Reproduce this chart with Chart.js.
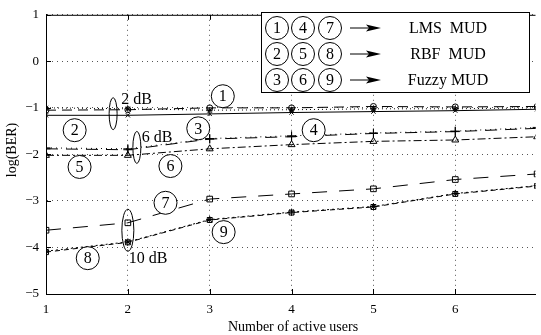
<!DOCTYPE html>
<html>
<head>
<meta charset="utf-8">
<script src="https://cdn.jsdelivr.net/npm/chart.js@4.4.1/dist/chart.umd.min.js"></script>
<style>
html,body{margin:0;padding:0;background:#fff;}
canvas{display:block;}
</style>
</head>
<body>
<canvas id="c" width="541" height="335"></canvas>
<script>
// ---- data ----
const users = [1, 2, 3, 4, 5, 6, 7];
const lms2dB   = [-1.05, -1.04, -1.00, -1.00, -0.97, -0.98, -0.97];
const rbf2dB   = [-1.16, -1.16, -1.13, -1.10, -1.08, -1.06, -1.03];
const fuzzy2dB = [-1.00, -1.02, -1.05, -1.04, -1.02, -1.02, -1.00];
const lms6dB   = [-1.88, -1.90, -1.67, -1.62, -1.55, -1.51, -1.44];
const rbf6dB   = [-1.86, -1.88, -1.66, -1.60, -1.54, -1.50, -1.42];
const fuzzy6dB = [-2.02, -2.02, -1.88, -1.79, -1.72, -1.69, -1.62];
const lms10dB  = [-3.63, -3.47, -2.96, -2.85, -2.74, -2.54, -2.42];
const rbf10dB  = [-4.10, -3.89, -3.41, -3.25, -3.13, -2.85, -2.68];
const fuzzy10dB= [-4.08, -3.88, -3.40, -3.24, -3.12, -2.84, -2.67];
const xTicks = [1, 2, 3, 4, 5, 6];
const yTicks = [1, 0, -1, -2, -3, -4, -5];
const legendRows = [["1","4","7","LMS  MUD"],["2","5","8","RBF  MUD"],["3","6","9","Fuzzy MUD"]];
// circled label positions (data coordinates)
const circleLabels = [
  ["1", 3.16, -0.75], ["2", 1.35, -1.48], ["3", 2.86, -1.44],
  ["4", 4.27, -1.48], ["5", 1.41, -2.27], ["6", 2.52, -2.25],
  ["7", 2.46, -3.04], ["8", 1.51, -4.23], ["9", 3.17, -3.67]
];
const snrEllipses = [
  {x: 1.82, y: -1.125, rx: 4, ry: 16, text: "2 dB", tx: 1.92, ty: -0.83},
  {x: 2.11, y: -1.85, rx: 4, ry: 16, text: "6 dB", tx: 2.17, ty: -1.65},
  {x: 2.00, y: -3.63, rx: 6, ry: 21, text: "10 dB", tx: 2.01, ty: -4.25}
];

const FONT = "'Liberation Serif', 'DejaVu Serif', serif";

function ds(vals, dash, style, rad) {
  return {
    data: vals.map((v, i) => ({x: users[i], y: v})),
    borderColor: '#000', backgroundColor: 'rgba(0,0,0,0)',
    borderWidth: 1, borderDash: dash,
    pointStyle: style, pointRadius: rad || 3.5, pointBorderWidth: 1,
    pointBorderColor: '#000', pointBackgroundColor: 'rgba(0,0,0,0)',
    tension: 0, fill: false
  };
}

const deco = {
  id: 'deco',
  afterDraw(chart) {
    const ctx = chart.ctx, a = chart.chartArea;
    const xs = chart.scales.x, ys = chart.scales.y;
    ctx.save();
    ctx.strokeStyle = '#000'; ctx.fillStyle = '#000'; ctx.lineWidth = 1;
    ctx.setLineDash([]);
    // top border
    ctx.beginPath(); ctx.moveTo(a.left, a.top + 0.5); ctx.lineTo(a.right, a.top + 0.5); ctx.stroke();
    // inner ticks
    ctx.beginPath();
    xTicks.forEach(v => {
      const px = Math.round(xs.getPixelForValue(v)) + 0.5;
      ctx.moveTo(px, a.bottom); ctx.lineTo(px, a.bottom - 5);
      ctx.moveTo(px, a.top); ctx.lineTo(px, a.top + 5);
    });
    yTicks.forEach(v => {
      const py = Math.round(ys.getPixelForValue(v)) + 0.5;
      ctx.moveTo(a.left, py); ctx.lineTo(a.left + 5, py);
    });
    ctx.stroke();
    // axis titles
    ctx.font = "14px " + FONT; ctx.textAlign = 'center'; ctx.textBaseline = 'middle';
    ctx.fillText("Number of active users", 293, 327);
    ctx.save(); ctx.translate(12, 150); ctx.rotate(-Math.PI / 2);
    ctx.fillText("log(BER)", 0, 0); ctx.restore();
    // circled labels
    ctx.font = "16px " + FONT;
    circleLabels.forEach(([t, x, y]) => {
      const px = xs.getPixelForValue(x), py = ys.getPixelForValue(y);
      ctx.fillStyle = '#fff';
      ctx.beginPath(); ctx.arc(px, py, 11.5, 0, Math.PI * 2); ctx.fill();
      ctx.fillStyle = '#000'; ctx.stroke();
      ctx.fillText(t, px, py + 1);
    });
    // SNR ellipses and texts
    snrEllipses.forEach(e => {
      const px = xs.getPixelForValue(e.x), py = ys.getPixelForValue(e.y);
      ctx.beginPath(); ctx.ellipse(px, py, e.rx, e.ry, 0, 0, Math.PI * 2); ctx.stroke();
      ctx.textAlign = 'left';
      ctx.fillText(e.text, xs.getPixelForValue(e.tx), ys.getPixelForValue(e.ty));
    });
    // legend box
    const lx = 261, ly = 12, lw = 268, lh = 80;
    ctx.fillStyle = '#fff'; ctx.fillRect(lx, ly, lw, lh);
    ctx.fillStyle = '#000';
    ctx.strokeRect(lx + 0.5, ly + 0.5, lw, lh);
    legendRows.forEach((row, r) => {
      const cy = ly + 16 + r * 26;
      [277, 303, 330].forEach((cx, k) => {
        ctx.beginPath(); ctx.arc(cx, cy, 11.5, 0, Math.PI * 2); ctx.stroke();
        ctx.textAlign = 'center';
        ctx.fillText(row[k], cx, cy + 1);
      });
      // arrow
      ctx.beginPath(); ctx.moveTo(350, cy); ctx.lineTo(372, cy); ctx.stroke();
      ctx.beginPath(); ctx.moveTo(381, cy); ctx.lineTo(366, cy - 3.5); ctx.lineTo(369, cy); ctx.lineTo(366, cy + 3.5); ctx.closePath(); ctx.fill();
      ctx.textAlign = 'center';
      ctx.fillText(row[3], 448, cy + 1);
    });
    ctx.restore();
  }
};

new Chart(document.getElementById('c'), {
  type: 'line',
  data: {
    datasets: [
      ds(lms2dB, [10, 6], 'circle', 3),
      ds(rbf2dB, [], 'crossRot', 3),
      ds(fuzzy2dB, [1, 3], 'star', 3),
      ds(lms6dB, [12, 8], 'cross', 4.5),
      ds(rbf6dB, [1, 4], 'cross', 4.5),
      ds(fuzzy6dB, [8, 3, 2, 3], 'triangle', 4),
      ds(lms10dB, [15, 12], 'rect', 4),
      ds(rbf10dB, [5, 4], 'rect', 3.5),
      ds(fuzzy10dB, [2, 3], 'star', 3.5)
    ]
  },
  options: {
    responsive: false, animation: false, devicePixelRatio: 1,
    layout: {padding: {top: 6, right: 0, left: 0, bottom: 0}},
    plugins: {legend: {display: false}, tooltip: {enabled: false}},
    scales: {
      x: {
        type: 'linear', min: 1, max: 6.98,
        afterFit: s => { s.height = 41; },
        ticks: {stepSize: 1, includeBounds: false, color: '#000', padding: 8,
                font: {family: FONT, size: 13}, maxRotation: 0},
        grid: {color: '#555', lineWidth: 1, drawTicks: false},
        border: {display: true, color: '#000', width: 1, dash: [1, 4]}
      },
      y: {
        min: -5, max: 1,
        afterFit: s => { s.width = 46; },
        ticks: {stepSize: 1, includeBounds: false, color: '#000', padding: 7,
                font: {family: FONT, size: 13},
                callback: v => String(v).replace('-', '\u2212')},
        grid: {color: '#555', lineWidth: 1, drawTicks: false},
        border: {display: true, color: '#000', width: 1, dash: [1, 4]}
      }
    }
  },
  plugins: [deco]
});
</script>
</body>
</html>
